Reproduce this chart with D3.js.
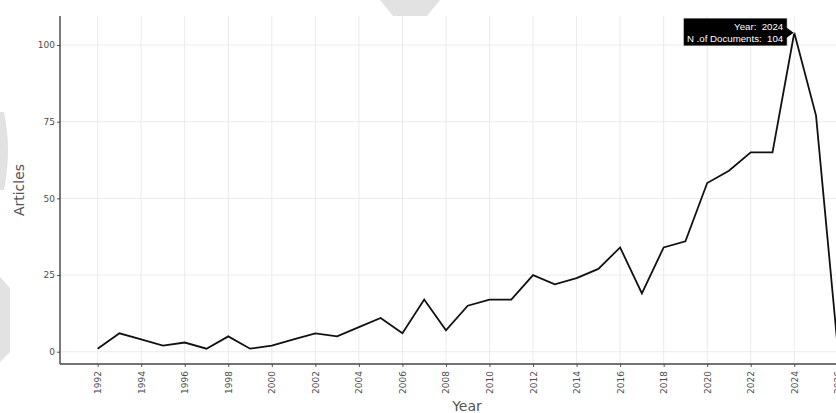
<!DOCTYPE html>
<html>
<head>
<meta charset="utf-8">
<script src="https://cdn.jsdelivr.net/npm/d3@7"></script>
<style>
  html, body { margin: 0; padding: 0; background: #fff; }
  svg { display: block; }
</style>
</head>
<body>
<svg id="chart" width="836" height="413"></svg>
<script>
const years = [1992,1993,1994,1995,1996,1997,1998,1999,2000,2001,2002,2003,2004,2005,2006,2007,2008,2009,2010,2011,2012,2013,2014,2015,2016,2017,2018,2019,2020,2021,2022,2023,2024,2025,2026];
const articles = [1,6,4,2,3,1,5,1,2,4,6,5,8,11,6,17,7,15,17,17,25,22,24,27,34,19,34,36,55,59,65,65,104,77,1];
const xTickYears = [1992,1994,1996,1998,2000,2002,2004,2006,2008,2010,2012,2014,2016,2018,2020,2022,2024,2026];
const yTickValues = [0,25,50,75,100];
const xTitle = "Year";
const yTitle = "Articles";
const tipLabelYear = "Year: ";
const tipLabelDocs = "N .of Documents: ";

const W = 836, H = 413;
const mLeft = 60, mTop = 16, mBottom = 364;
const svg = d3.select("#chart");

// faint watermark shapes in the margins
const wm = svg.append("g").attr("fill", "#e2e2e2");
wm.append("path").attr("d", "M0,112 L4,112 Q12,150 4,190 L0,190 Z");
wm.append("path").attr("d", "M0,277 L10,288 L10,352 L0,362 Z");
wm.append("path").attr("d", "M380,0 L440,0 L427,16 L393,16 Z");

const x = d3.scaleLinear().domain([1990.27, 2027.5]).range([mLeft, mLeft + 37.23 * 21.769]);
const y = d3.scaleLinear().domain([-4.0, 109.46]).range([mBottom, mTop]);

// plot background
svg.append("rect").attr("x", mLeft).attr("y", mTop).attr("width", W - mLeft).attr("height", mBottom - mTop).attr("fill", "#fff");

// grid
const grid = svg.append("g").attr("stroke", "#ebebeb").attr("stroke-width", 1);
grid.selectAll("line.v").data(xTickYears).join("line").attr("class", "v")
  .attr("x1", d => x(d)).attr("x2", d => x(d)).attr("y1", mTop).attr("y2", mBottom);
grid.selectAll("line.h").data(yTickValues).join("line").attr("class", "h")
  .attr("x1", mLeft).attr("x2", W).attr("y1", d => y(d)).attr("y2", d => y(d));

// y axis
const yAxis = svg.append("g").attr("transform", `translate(${mLeft},0)`)
  .call(d3.axisLeft(y).tickValues(yTickValues).tickSize(3).tickPadding(2).tickSizeOuter(0));
yAxis.select(".domain").remove();
yAxis.append("line").attr("x1", 0).attr("x2", 0).attr("y1", mTop).attr("y2", mBottom)
  .attr("stroke", "#333").attr("stroke-width", 1.3);
yAxis.selectAll(".tick line").attr("stroke", "#555");
yAxis.selectAll(".tick text").attr("fill", "#4d4d4d").style("font-family", "DejaVu Sans").style("font-size", "9px");

// x axis
const xAxis = svg.append("g").attr("transform", `translate(0,${mBottom})`)
  .call(d3.axisBottom(x).tickValues(xTickYears).tickFormat(d3.format("d")).tickSize(3).tickSizeOuter(0));
xAxis.select(".domain").remove();
xAxis.append("line").attr("x1", mLeft).attr("x2", W).attr("y1", 0).attr("y2", 0)
  .attr("stroke", "#444").attr("stroke-width", 1.3);
xAxis.selectAll(".tick line").attr("stroke", "#555");
xAxis.selectAll(".tick text")
  .attr("fill", "#4d4d4d").style("font-family", "DejaVu Sans").style("font-size", "9px")
  .attr("transform", "rotate(-90)").attr("text-anchor", "end")
  .attr("x", -7).attr("y", 0).attr("dy", "0.33em");

// line
const data = years.map((yr, i) => ({ yr, v: articles[i] }));
svg.append("path").datum(data)
  .attr("fill", "none").attr("stroke", "#111").attr("stroke-width", 1.8).attr("stroke-linejoin", "miter")
  .attr("d", d3.line().x(d => x(d.yr)).y(d => y(d.v)));

// axis titles
svg.append("text").attr("x", 467).attr("y", 411).attr("text-anchor", "middle")
  .attr("fill", "#555").style("font-family", "DejaVu Sans").style("font-size", "14px").text(xTitle);
svg.append("text").attr("transform", "translate(24,190) rotate(-90)").attr("text-anchor", "middle")
  .attr("fill", "#555").style("font-family", "DejaVu Sans").style("font-size", "14px").text(yTitle);

// tooltip for the maximum point
const maxI = d3.maxIndex(articles);
const px = x(years[maxI]), py = y(articles[maxI]);
const tip = svg.append("g");
const rx1 = px - 111, rx2 = px - 7, ry1 = 18, ry2 = 46;
tip.append("path")
  .attr("d", `M${rx1},${ry1} L${rx2},${ry1} L${rx2},${py - 5} L${px},${py} L${rx2},${py + 5} L${rx2},${ry2} L${rx1},${ry2} Z`)
  .attr("fill", "#000").attr("stroke", "#fff").attr("stroke-width", 0.8);
tip.append("text").attr("x", rx2 - 4).attr("y", 29.5).attr("text-anchor", "end")
  .attr("fill", "#fff").style("font-family", "Liberation Sans, Arial").style("font-size", "9.7px").style("white-space", "pre")
  .text(tipLabelYear + " " + years[maxI]);
tip.append("text").attr("x", rx2 - 4).attr("y", 42).attr("text-anchor", "end")
  .attr("fill", "#fff").style("font-family", "Liberation Sans, Arial").style("font-size", "9.7px").style("white-space", "pre")
  .text(tipLabelDocs + " " + articles[maxI]);
</script>
</body>
</html>
